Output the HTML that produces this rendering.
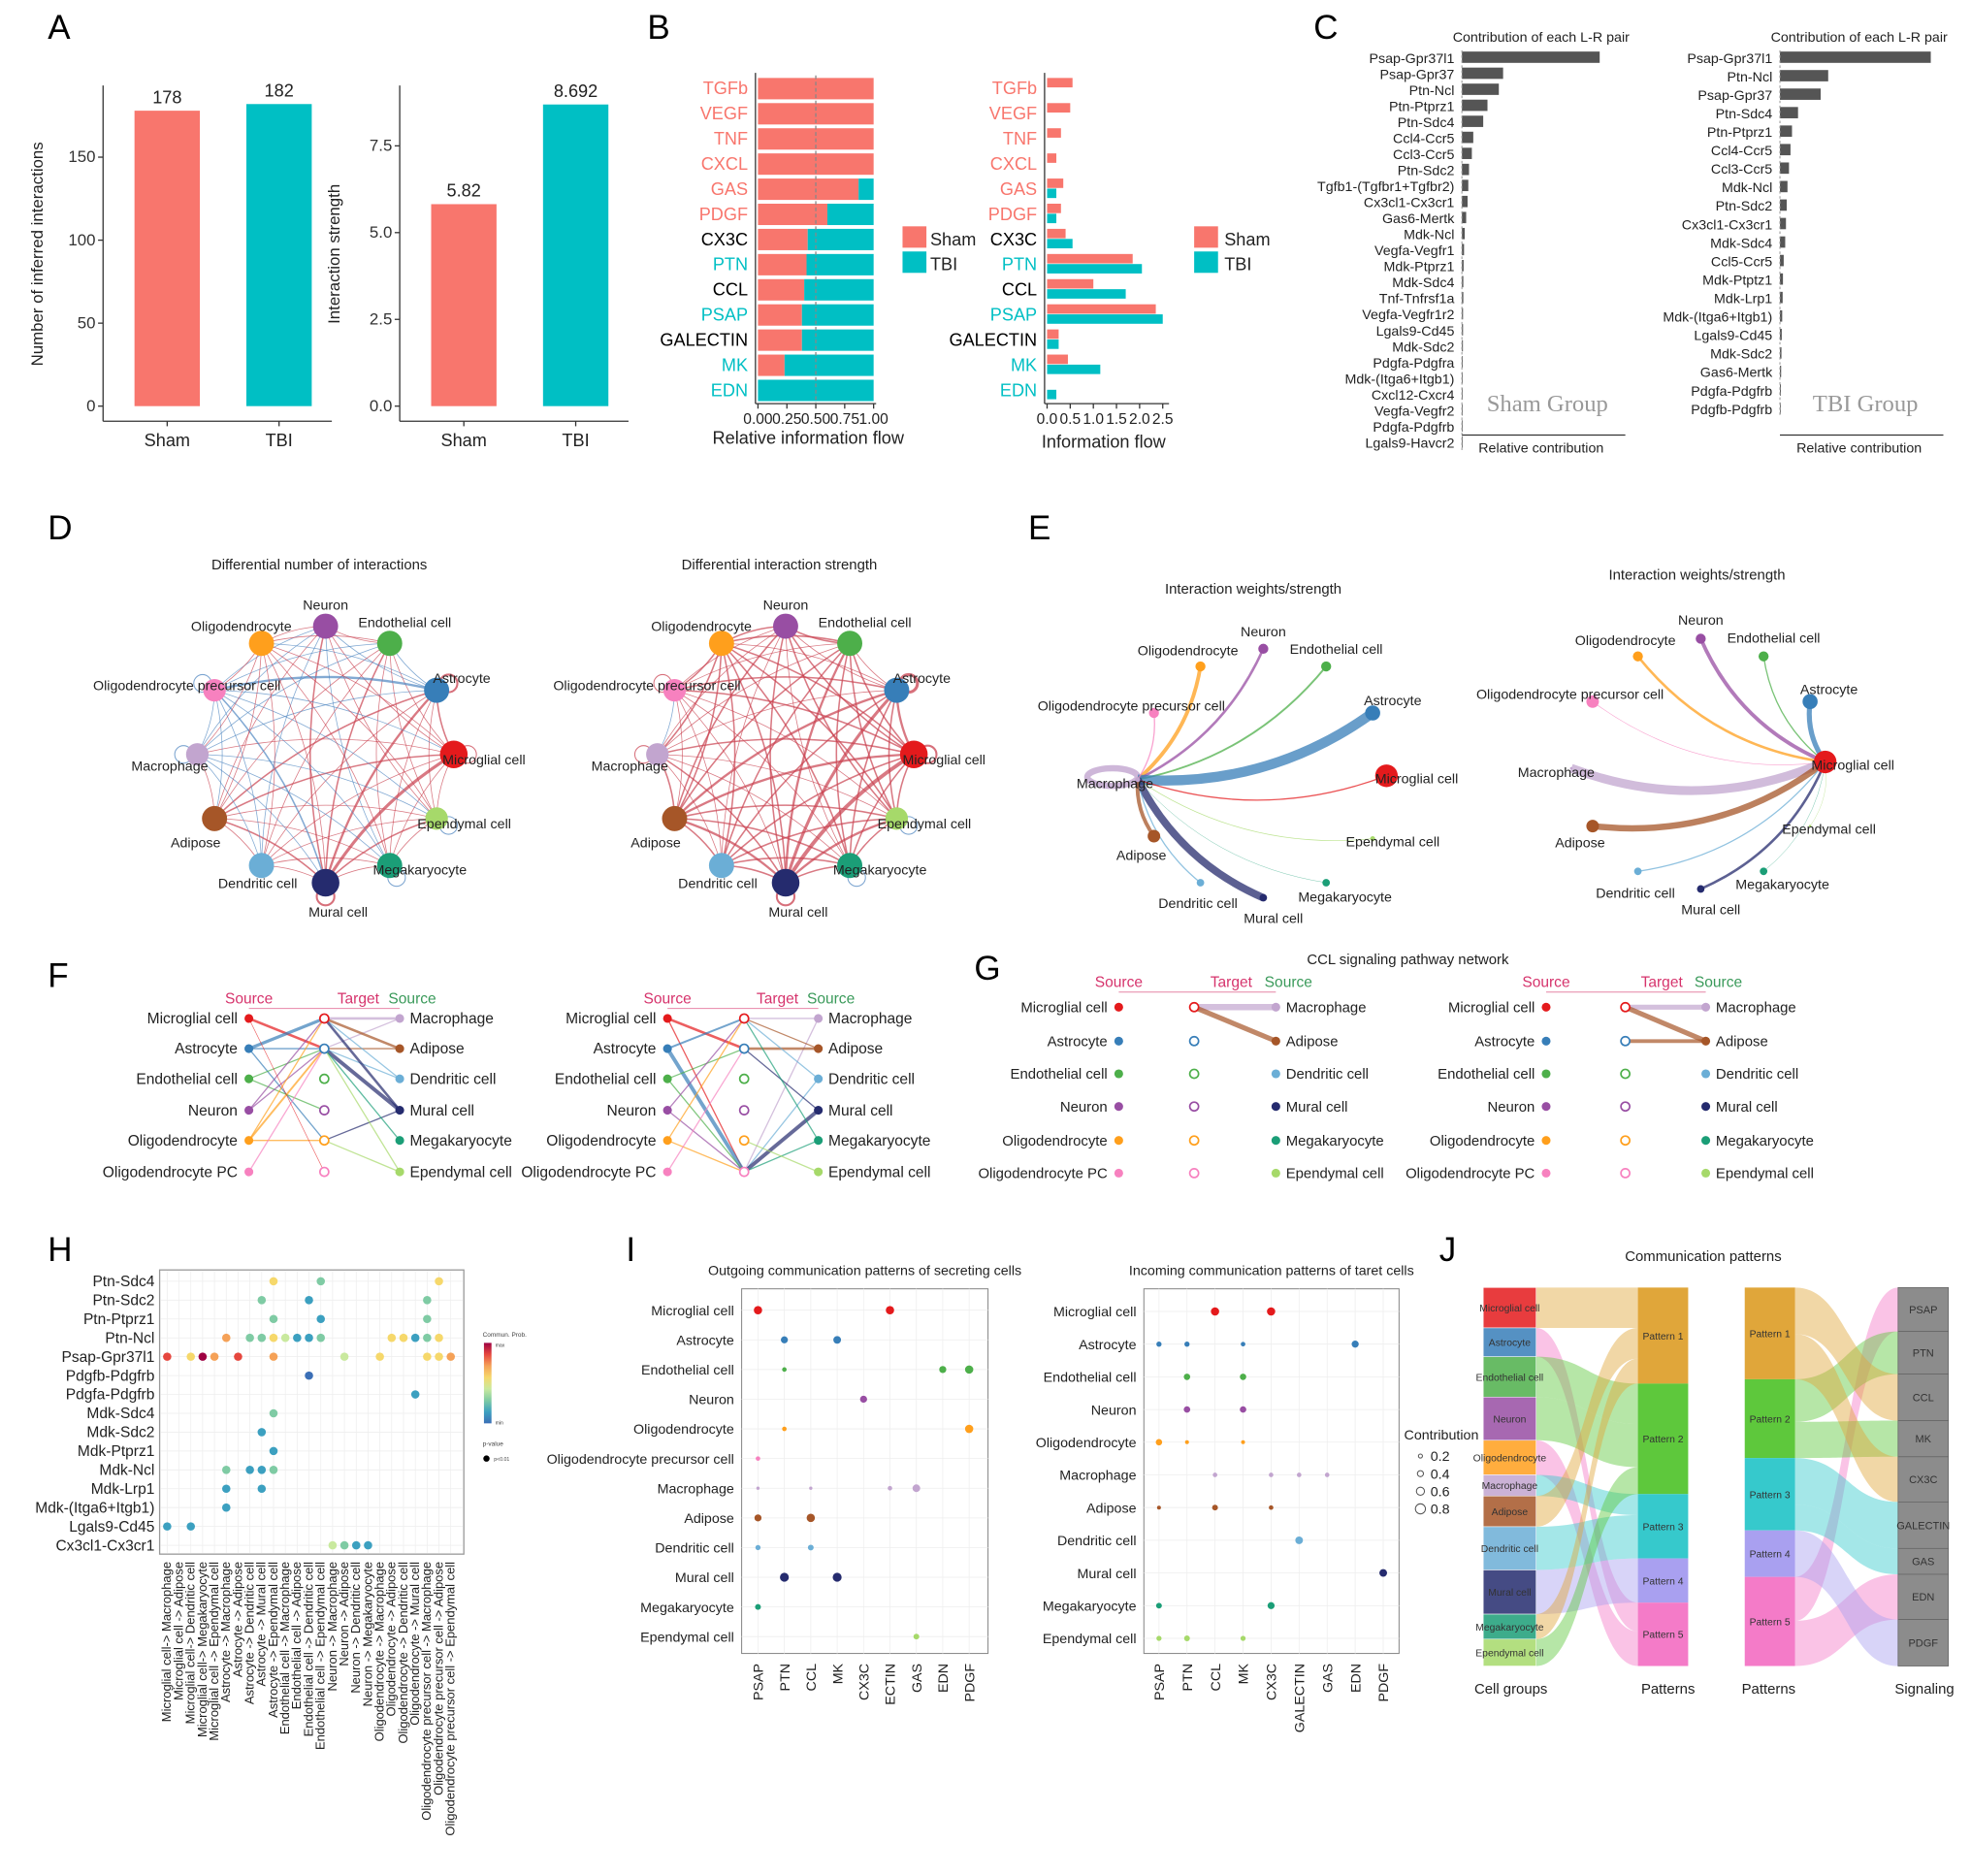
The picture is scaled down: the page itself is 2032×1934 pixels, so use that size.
<!DOCTYPE html>
<html><head><meta charset="utf-8">
<style>
html,body{margin:0;padding:0;background:#fff;}
svg{display:block;font-family:"Liberation Sans",Arial,sans-serif;}
</style></head>
<body>
<svg id="fig" xmlns="http://www.w3.org/2000/svg" width="2032" height="1934" viewBox="0 0 1568 1492" preserveAspectRatio="none"></svg>
<script>
// ---------- DATA ----------
const aCats=['Sham','TBI'];
const aCounts=[178,182];
const aStrength=[5.82,8.692];
const aCountTicks=[0,50,100,150];
const aStrTicks=[0,2.5,5,7.5];
const aStrTickLabels=['0.0','2.5','5.0','7.5'];

const bPathways=['TGFb','VEGF','TNF','CXCL','GAS','PDGF','CX3C','PTN','CCL','PSAP','GALECTIN','MK','EDN'];
const bLabelGroup=['s','s','s','s','s','s','n','t','n','t','n','t','t'];
const bShamRel=[1,1,1,1,0.87,0.6,0.43,0.42,0.40,0.38,0.38,0.23,0];
const bShamFlow=[0.55,0.5,0.3,0.2,0.35,0.3,0.4,1.85,1.0,2.35,0.25,0.45,0];
const bTbiFlow=[0,0,0,0,0.2,0.2,0.55,2.05,1.7,2.5,0.25,1.15,0.2];
const bRelTicks=[0,0.25,0.5,0.75,1];
const bRelTickLabels=['0.00','0.25','0.50','0.75','1.00'];
const bFlowTicks=[0,0.5,1,1.5,2,2.5];
const bFlowTickLabels=['0.0','0.5','1.0','1.5','2.0','2.5'];

const cShamPairs=['Psap-Gpr37l1','Psap-Gpr37','Ptn-Ncl','Ptn-Ptprz1','Ptn-Sdc4','Ccl4-Ccr5','Ccl3-Ccr5','Ptn-Sdc2','Tgfb1-(Tgfbr1+Tgfbr2)','Cx3cl1-Cx3cr1','Gas6-Mertk','Mdk-Ncl','Vegfa-Vegfr1','Mdk-Ptprz1','Mdk-Sdc4','Tnf-Tnfrsf1a','Vegfa-Vegfr1r2','Lgals9-Cd45','Mdk-Sdc2','Pdgfa-Pdgfra','Mdk-(Itga6+Itgb1)','Cxcl12-Cxcr4','Vegfa-Vegfr2','Pdgfa-Pdgfrb','Lgals9-Havcr2'];
const cShamVals=[0.97,0.29,0.26,0.18,0.15,0.08,0.07,0.05,0.045,0.04,0.03,0.02,0.015,0.012,0.01,0.01,0.008,0.008,0.007,0.006,0.005,0.005,0.004,0.004,0.003];
const cTbiPairs=['Psap-Gpr37l1','Ptn-Ncl','Psap-Gpr37','Ptn-Sdc4','Ptn-Ptprz1','Ccl4-Ccr5','Ccl3-Ccr5','Mdk-Ncl','Ptn-Sdc2','Cx3cl1-Cx3cr1','Mdk-Sdc4','Ccl5-Ccr5','Mdk-Ptptz1','Mdk-Lrp1','Mdk-(Itga6+Itgb1)','Lgals9-Cd45','Mdk-Sdc2','Gas6-Mertk','Pdgfa-Pdgfrb','Pdgfb-Pdgfrb'];
const cTbiVals=[1.0,0.32,0.27,0.12,0.08,0.07,0.06,0.05,0.045,0.04,0.035,0.025,0.02,0.018,0.015,0.012,0.01,0.008,0.006,0.005];

const C={Microglial:'#E41A1C',Astrocyte:'#377EB8',Endothelial:'#4DAF4A',Neuron:'#984EA3',Oligodendrocyte:'#FF9F1C',OPC:'#F781BF',Macrophage:'#C2A5CF',Adipose:'#A65628',Dendritic:'#6BAED6',Mural:'#252B6E',Megakaryocyte:'#1B9E77',Ependymal:'#A6D96A'};

const dNodes=['Neuron','Endothelial','Astrocyte','Microglial','Ependymal','Megakaryocyte','Mural','Dendritic','Adipose','Macrophage','OPC','Oligodendrocyte'];
const dLabels=['Neuron','Endothelial cell','Astrocyte','Microglial cell','Ependymal cell','Megakaryocyte','Mural cell','Dendritic cell','Adipose','Macrophage','Oligodendrocyte precursor cell','Oligodendrocyte'];
const dSizes=[10,10,10,11,9,10,11,10,10,9,9,10];
const dNum=[1,-1,1,1,-1,2,-1,1,-1,-1,1,
 -1,1,1,1,2,1,1,-1,-1,1,
 2,1,1,3,1,2,-1,-3,-1,
 1,1,4,1,2,1,-1,1,
 1,2,1,1,-1,-1,1,
 1,1,1,-1,-1,1,
 1,2,-1,-2,1,
 1,-1,-1,1,
 1,-1,1,
 -1,1,
 1];
const dStr=[2,1,2,2,1,2,1,2,1,1,2,
 1,2,2,2,3,2,2,1,1,2,
 3,2,2,4,2,3,1,2,1,
 2,2,5,2,3,2,2,2,
 2,3,2,2,1,1,2,
 2,2,2,1,1,2,
 2,3,2,1,2,
 2,1,1,2,
 2,1,2,
 -1,2,
 2];
const dNumLoops=[0,0,2,1,-1,-1,2,0,0,-1,-1,0];
const dStrLoops=[0,0,3,2,-1,-1,2,0,0,1,1,0];

const eLeftTargets=['Oligodendrocyte','Neuron','Endothelial','Astrocyte','OPC','Microglial','Ependymal','Megakaryocyte','Mural','Dendritic','Adipose'];
const eLeftW=[3,2,1.5,8,1,1,0.5,0.3,6,1,3];
const eRightSources=['Oligodendrocyte','Neuron','Endothelial','Astrocyte','OPC','Macrophage','Adipose','Dendritic','Mural','Megakaryocyte','Ependymal'];
const eRightW=[2,3,1,4,0.5,7,5,1,2,0.3,0.3];

const fLeftCells=['Microglial','Astrocyte','Endothelial','Neuron','Oligodendrocyte','OPC'];
const fLeftLabels=['Microglial cell','Astrocyte','Endothelial cell','Neuron','Oligodendrocyte','Oligodendrocyte PC'];
const fRightCells=['Macrophage','Adipose','Dendritic','Mural','Megakaryocyte','Ependymal'];
const fRightLabels=['Macrophage','Adipose','Dendritic cell','Mural cell','Megakaryocyte','Ependymal cell'];
const f1LeftEdges=[[0,1,2],[1,0,2.5],[1,1,1],[1,4,1],[2,1,1],[2,3,1],[3,0,1],[3,1,1],[4,0,1],[4,1,1.5],[4,4,1],[5,1,1],[0,5,0.5]];
const f1RightEdges=[[0,0,2],[0,1,1],[1,0,2],[1,1,1],[2,0,1],[2,1,1],[3,1,3],[3,0,2],[3,4,1],[4,1,1],[5,1,1],[5,4,1]];
const f2LeftEdges=[[0,1,2],[0,5,1],[1,0,1.5],[1,5,3],[2,1,1],[2,5,1],[3,0,1],[3,5,1],[4,0,1],[4,5,1],[5,1,1]];
const f2RightEdges=[[0,0,1],[0,5,1],[1,0,1],[1,1,2],[2,0,1],[2,5,1],[3,1,1],[3,5,3],[4,0,1],[4,5,1],[5,4,1]];
const g1RightEdges=[[0,0,5],[1,0,4]];
const g2RightEdges=[[0,0,4],[1,0,4],[1,1,3]];

const hPairs=['Ptn-Sdc4','Ptn-Sdc2','Ptn-Ptprz1','Ptn-Ncl','Psap-Gpr37l1','Pdgfb-Pdgfrb','Pdgfa-Pdgfrb','Mdk-Sdc4','Mdk-Sdc2','Mdk-Ptprz1','Mdk-Ncl','Mdk-Lrp1','Mdk-(Itga6+Itgb1)','Lgals9-Cd45','Cx3cl1-Cx3cr1'];
const hCols=['Microglial cell-> Macrophage','Microglial cell -> Adipose','Microglial cell-> Dendritic cell','Microglial cell-> Megakaryocyte','Microglial cell -> Ependymal cell','Astrocyte -> Macrophage','Astrocyte -> Adipose','Astrocyte -> Dendritic cell','Astrocyte -> Mural cell','Astrocyte -> Ependymal cell','Endothelial cell -> Macrophage','Endothelial cell -> Adipose','Endothelial cell -> Dendritic cell','Endothelial cell -> Ependymal cell','Neuron -> Macrophage','Neuron -> Adipose','Neuron -> Dendritic cell','Neuron -> Megakaryocyte','Oligodendrocyte -> Macrophage','Oligodendrocyte -> Adipose','Oligodendrocyte -> Dendritic cell','Oligodendrocyte -> Mural cell','Oligodendrocyte precursor cell -> Macrophage','Oligodendrocyte precursor cell -> Adipose','Oligodendrocyte precursor cell -> Ependymal cell'];
const hDots=[[0,9,0.6],[0,13,0.35],[0,23,0.55],
[1,8,0.35],[1,12,0.15],[1,22,0.35],
[2,9,0.35],[2,13,0.15],[2,22,0.35],
[3,5,0.7],[3,7,0.35],[3,8,0.35],[3,9,0.55],[3,10,0.4],[3,11,0.15],[3,12,0.2],[3,13,0.35],[3,19,0.6],[3,20,0.5],[3,21,0.2],[3,22,0.35],[3,23,0.55],
[4,0,0.8],[4,2,0.6],[4,3,1.0],[4,4,0.7],[4,6,0.8],[4,9,0.7],[4,15,0.45],[4,18,0.6],[4,22,0.6],[4,23,0.6],[4,24,0.65],
[5,12,0.05],[6,21,0.1],[7,9,0.35],[8,8,0.15],[9,9,0.2],
[10,5,0.3],[10,7,0.15],[10,8,0.15],[10,9,0.3],
[11,5,0.15],[11,8,0.15],[12,5,0.15],[13,0,0.1],[13,2,0.15],
[14,14,0.45],[14,15,0.35],[14,16,0.15],[14,17,0.15]];

const iOutRows=['Microglial cell','Astrocyte','Endothelial cell','Neuron','Oligodendrocyte','Oligodendrocyte precursor cell','Macrophage','Adipose','Dendritic cell','Mural cell','Megakaryocyte','Ependymal cell'];
const iOutKeys=['Microglial','Astrocyte','Endothelial','Neuron','Oligodendrocyte','OPC','Macrophage','Adipose','Dendritic','Mural','Megakaryocyte','Ependymal'];
const iOutCols=['PSAP','PTN','CCL','MK','CX3C','ECTIN','GAS','EDN','PDGF'];
const iOutDots=[[0,0,0.5],[0,5,0.5],[1,1,0.4],[1,3,0.45],[2,1,0.2],[2,7,0.4],[2,8,0.5],[3,4,0.4],[4,1,0.2],[4,8,0.5],[5,0,0.2],[6,0,0.1],[6,2,0.1],[6,5,0.2],[6,6,0.45],[7,0,0.4],[7,2,0.5],[8,0,0.25],[8,2,0.3],[9,1,0.55],[9,3,0.55],[10,0,0.3],[11,6,0.3]];
const iInRows=['Microglial cell','Astrocyte','Endothelial cell','Neuron','Oligodendrocyte','Macrophage','Adipose','Dendritic cell','Mural cell','Megakaryocyte','Ependymal cell'];
const iInKeys=['Microglial','Astrocyte','Endothelial','Neuron','Oligodendrocyte','Macrophage','Adipose','Dendritic','Mural','Megakaryocyte','Ependymal'];
const iInCols=['PSAP','PTN','CCL','MK','CX3C','GALECTIN','GAS','EDN','PDGF'];
const iInDots=[[0,2,0.5],[0,4,0.5],[1,0,0.25],[1,1,0.25],[1,3,0.2],[1,7,0.4],[2,1,0.35],[2,3,0.35],[3,1,0.35],[3,3,0.35],[4,0,0.35],[4,1,0.15],[4,3,0.15],[5,2,0.2],[5,4,0.2],[5,5,0.2],[5,6,0.2],[6,0,0.15],[6,2,0.3],[6,4,0.2],[7,5,0.45],[8,8,0.45],[9,0,0.3],[9,4,0.4],[10,0,0.25],[10,1,0.3],[10,3,0.25]];

const jCells=['Microglial cell','Astrocyte','Endothelial cell','Neuron','Oligodendrocyte','Macrophage','Adipose','Dendritic cell','Mural cell','Megakaryocyte','Ependymal cell'];
const jCellKeys=['Microglial','Astrocyte','Endothelial','Neuron','Oligodendrocyte','Macrophage','Adipose','Dendritic','Mural','Megakaryocyte','Ependymal'];
const jCellShare=[4.2,3.0,4.2,4.5,3.6,2.2,3.2,4.5,4.6,2.6,2.8];
const jCellPattern=[0,4,1,1,4,2,0,2,3,0,1];
const jPatterns=['Pattern 1','Pattern 2','Pattern 3','Pattern 4','Pattern 5'];
const jPatternColors=['#E0A63A','#5EC83C','#36C9CC','#A9A0F0','#F47BC8'];
const jSignals=['PSAP','PTN','CCL','MK','CX3C','GALECTIN','GAS','EDN','PDGF'];
const jSignalShare=[3.4,3.3,3.6,2.8,3.5,3.6,2.0,3.5,3.6];
const jSignalPattern=[4,1,0,1,0,2,2,4,3];

// ---------- HELPERS ----------
const NS='http://www.w3.org/2000/svg';
const svg=document.getElementById('fig');
function mk(tag,attrs,name,parent){
  const e=document.createElementNS(NS,tag);
  for(const k in attrs) e.setAttribute(k,attrs[k]);
  
  
  (parent||svg).appendChild(e);
  return e;
}
function tx(x,y,s,size,anchor,fill,name,extra){
  const a=Object.assign({x:x,y:y,'font-size':size,'text-anchor':anchor||'start',fill:fill||'#000'},extra||{});
  const e=mk('text',a,name);
  e.textContent=s;
  return e;
}
function line(x1,y1,x2,y2,stroke,w,name,extra){
  return mk('line',Object.assign({x1:x1,y1:y1,x2:x2,y2:y2,stroke:stroke,'stroke-width':w},extra||{}),name);
}
const SH='#F8766D', TB='#00BFC4';

[['A',38,31],['B',515,31],['C',1045,31],['D',38,429],['E',818,429],['F',38,785],['G',775,779],['H',38,1003],['I',498,1003],['J',1145,1003]].forEach(p=>{
  tx(p[1],p[2],p[0],27,'start','#000','panel-label-'+p[0].toLowerCase());
});

// ---------- A ----------
function chartA(ox,vals,ticks,tl,scale,title,vlabels,nm){
  const y=v=>323-v*scale;
  line(ox,68,ox,335,'#333',1,nm+'-y-axis');
  line(ox,335,ox+182,335,'#333',1,nm+'-x-axis');
  ticks.forEach((t,i)=>{
    line(ox-4,y(t),ox,y(t),'#333',1,nm+'-y-tick');
    tx(ox-6,y(t)+4,tl[i],13,'end','#333',nm+'-y-tick-label');
  });
  vals.forEach((v,i)=>{
    const cx=ox+51+i*89;
    mk('rect',{x:cx-26,y:y(v),width:52,height:323-y(v),fill:i?TB:SH},nm+'-bar-'+aCats[i].toLowerCase());
    tx(cx,y(v)-6,vlabels[i],14,'middle','#222',nm+'-value-label');
    line(cx,335,cx,339,'#333',1,nm+'-x-tick');
    tx(cx,355,aCats[i],14,'middle','#222',nm+'-x-tick-label');
  });
  tx(ox-48,202,title,13,'middle','#222',nm+'-y-axis-title',{transform:'rotate(-90 '+(ox-48)+' 202)'});
}
chartA(82,aCounts,aCountTicks,aCountTicks.map(String),1.32,'Number of inferred interactions',aCounts.map(String),'a-count');
chartA(318,aStrength,aStrTicks,aStrTickLabels,27.6,'Interaction strength',aStrength.map(String),'a-strength');

// ---------- B ----------
const bY=i=>70+i*20;
const bLabelColor=g=>g==='s'?SH:(g==='t'?TB:'#000');
line(601,58,601,321,'#333',1,'b-rel-y-axis');
line(601,321,697,321,'#333',1,'b-rel-x-axis');
const bRelX=v=>603+v*92;
bPathways.forEach((p,i)=>{
  const y=bY(i);
  const s=bShamRel[i];
  if(s>0) mk('rect',{x:bRelX(0),y:y-8,width:bRelX(s)-bRelX(0),height:17,fill:SH},'b-rel-bar-sham');
  if(s<1) mk('rect',{x:bRelX(s),y:y-8,width:bRelX(1)-bRelX(s),height:17,fill:TB},'b-rel-bar-tbi');
  tx(595,y+5,p,14,'end',bLabelColor(bLabelGroup[i]),'b-rel-pathway-label');
  tx(825,y+5,p,14,'end',bLabelColor(bLabelGroup[i]),'b-flow-pathway-label');
});
line(bRelX(0.5),60,bRelX(0.5),321,'#888',1,'b-rel-midline',{'stroke-dasharray':'3,2'});
bRelTicks.forEach((t,i)=>{
  line(bRelX(t),321,bRelX(t),325,'#333',1,'b-rel-x-tick');
  tx(bRelX(t),337,bRelTickLabels[i],12,'middle','#222','b-rel-x-tick-label');
});
tx(643,353,'Relative information flow',14,'middle','#222','b-rel-x-axis-title');
[['Sham',SH,190],['TBI',TB,210]].forEach(l=>{
  mk('rect',{x:718,y:l[2]-10,width:19,height:17,fill:l[1]},'b-rel-legend-key');
  tx(740,l[2]+5,l[0],14,'start','#222','b-rel-legend-label');
  mk('rect',{x:950,y:l[2]-10,width:19,height:17,fill:l[1]},'b-flow-legend-key');
  tx(974,l[2]+5,l[0],14,'start','#222','b-flow-legend-label');
});
const bFX=v=>833+v*36.8;
line(831,58,831,321,'#333',1,'b-flow-y-axis');
line(831,321,930,321,'#333',1,'b-flow-x-axis');
bPathways.forEach((p,i)=>{
  const y=bY(i);
  if(bShamFlow[i]>0) mk('rect',{x:bFX(0),y:y-8,width:bFX(bShamFlow[i])-bFX(0),height:7.5,fill:SH},'b-flow-bar-sham');
  if(bTbiFlow[i]>0) mk('rect',{x:bFX(0),y:y,width:bFX(bTbiFlow[i])-bFX(0),height:7.5,fill:TB},'b-flow-bar-tbi');
});
bFlowTicks.forEach((t,i)=>{
  line(bFX(t),321,bFX(t),325,'#333',1,'b-flow-x-tick');
  tx(bFX(t),337,bFlowTickLabels[i],12,'middle','#222','b-flow-x-tick-label');
});
tx(878,356,'Information flow',14,'middle','#222','b-flow-x-axis-title');

// ---------- C ----------
function chartC(x0,pairs,vals,scale,step,group,nm){
  tx(x0+63,33,'Contribution of each L-R pair',11,'middle','#222',nm+'-title');
  const y=i=>46+i*step;
  pairs.forEach((p,i)=>{
    tx(x0-6,y(i)+4,p,11,'end','#222',nm+'-pair-label');
    mk('rect',{x:x0,y:y(i)-5,width:Math.max(vals[i]*scale,0.6),height:9,fill:'#555'},nm+'-bar');
  });
  line(x0,40,x0,y(pairs.length-1)+6,'#999',0.8,nm+'-zero-line',{'stroke-dasharray':'2,2'});
  line(x0,346,x0+130,346,'#333',1,nm+'-x-axis');
  tx(x0+63,360,'Relative contribution',11,'middle','#222',nm+'-x-axis-title');
  tx(x0+68,327,group,19,'middle','#999',nm+'-group-label',{'font-family':'Liberation Serif, serif'});
}
chartC(1163,cShamPairs,cShamVals,113,12.75,'Sham Group','c-sham');
chartC(1416,cTbiPairs,cTbiVals,120,14.7,'TBI Group','c-tbi');

// ---------- D ----------
function netD(cx,cy,weights,loops,title,nm){
  tx(cx-5,453,title,11.5,'middle','#222',nm+'-title');
  const R=102;
  const pos=dNodes.map((n,i)=>{const a=-Math.PI/2+i*Math.PI*2/12;return [cx+R*Math.cos(a),cy+R*Math.sin(a),a];});
  let k=0;
  for(let i=0;i<12;i++){for(let j=i+1;j<12;j++){
    const w=weights[k++];
    const [x1,y1]=pos[i],[x2,y2]=pos[j];
    const mx=(x1+x2)/2,my=(y1+y2)/2;
    const dx=x2-x1,dy=y2-y1;
    const qx=mx-dy*0.12,qy=my+dx*0.12;
    mk('path',{d:`M${x1},${y1} Q${qx},${qy} ${x2},${y2}`,fill:'none',stroke:w>0?'#C9404F':'#4F86C0','stroke-width':Math.abs(w)*0.6,'stroke-opacity':0.7},nm+'-edge');
  }}
  pos.forEach((p,i)=>{
    const l=loops[i];
    if(l!==0){
      const lx=p[0]+Math.cos(p[2])*11,ly=p[1]+Math.sin(p[2])*11;
      mk('circle',{cx:lx,cy:ly,r:7,fill:'none',stroke:l>0?'#C9404F':'#4F86C0','stroke-width':Math.abs(l)*0.8,'stroke-opacity':0.75},nm+'-self-loop');
    }
  });
  const off=[[0,-17],[12,-17],[20,-10],[24,4],[22,4],[24,3],[10,23],[-3,14],[-15,19],[-22,9],[-22,-4],[-16,-14]];
  pos.forEach((p,i)=>{
    mk('circle',{cx:p[0],cy:p[1],r:dSizes[i],fill:C[dNodes[i]]},nm+'-node-'+dNodes[i].toLowerCase());
    tx(p[0]+off[i][0],p[1]+off[i][1]+4,dLabels[i],11,'middle','#222',nm+'-node-label');
  });
}
netD(259,600,dNum,dNumLoops,'Differential number of interactions','d-num');
netD(625,600,dStr,dStrLoops,'Differential interaction strength','d-str');

// ---------- E ----------
const eLeftPos={Oligodendrocyte:[955,530],Neuron:[1005,516],Endothelial:[1055,530],Astrocyte:[1092,567],OPC:[918,567],Microglial:[1103,617],Ependymal:[1092,667],Megakaryocyte:[1055,702],Mural:[1005,714],Dendritic:[955,702],Adipose:[918,665],Macrophage:[905,620]};
const eLabel={Oligodendrocyte:'Oligodendrocyte',Neuron:'Neuron',Endothelial:'Endothelial cell',Astrocyte:'Astrocyte',OPC:'Oligodendrocyte precursor cell',Microglial:'Microglial cell',Ependymal:'Ependymal cell',Megakaryocyte:'Megakaryocyte',Mural:'Mural cell',Dendritic:'Dendritic cell',Adipose:'Adipose',Macrophage:'Macrophage'};
const eNodeR={Oligodendrocyte:4,Neuron:4,Endothelial:4,Astrocyte:6,OPC:4,Microglial:9,Ependymal:2,Megakaryocyte:3,Mural:3,Dendritic:3,Adipose:5,Macrophage:2};
const eLabOff={Oligodendrocyte:[-10,-12],Neuron:[0,-13],Endothelial:[8,-13],Astrocyte:[16,-9],OPC:[-18,-5],Microglial:[24,3],Ependymal:[16,3],Megakaryocyte:[15,12],Mural:[8,17],Dendritic:[-2,17],Adipose:[-10,16],Macrophage:[-18,4]};
tx(997,472,'Interaction weights/strength',11.5,'middle','#222','e-left-title');
tx(1350,461,'Interaction weights/strength',11.5,'middle','#222','e-right-title');
const [emx,emy]=eLeftPos.Macrophage;
mk('ellipse',{cx:emx-20,cy:emy-2,rx:20,ry:7,fill:'none',stroke:C.Macrophage,'stroke-width':5,'stroke-opacity':0.8},'e-left-self-loop');
eLeftTargets.forEach((t,i)=>{
  const [x,y]=eLeftPos[t];
  mk('path',{d:`M${emx},${emy} Q${(emx+x)/2-(y-emy)*0.18},${(emy+y)/2+(x-emx)*0.18} ${x},${y}`,fill:'none',stroke:C[t],'stroke-width':eLeftW[i],'stroke-opacity':0.75},'e-left-edge');
});
Object.keys(eLeftPos).forEach(k=>{
  const [x,y]=eLeftPos[k];
  mk('circle',{cx:x,cy:y,r:eNodeR[k],fill:C[k]},'e-left-node');
  tx(x+eLabOff[k][0],y+eLabOff[k][1]+3,eLabel[k],11,'middle','#222','e-left-node-label');
});
const eRPos={Oligodendrocyte:[1303,522],Neuron:[1353,508],Endothelial:[1403,522],Astrocyte:[1440,558],OPC:[1267,558],Macrophage:[1250,611],Adipose:[1267,657],Dendritic:[1303,693],Mural:[1353,707],Megakaryocyte:[1403,693],Ependymal:[1440,657],Microglial:[1452,606]};
const eRR={Oligodendrocyte:4,Neuron:4,Endothelial:4,Astrocyte:6,OPC:5,Macrophage:1,Adipose:5,Dendritic:3,Mural:3,Megakaryocyte:3,Ependymal:1,Microglial:9};
const eROff={Oligodendrocyte:[-10,-12],Neuron:[0,-14],Endothelial:[8,-14],Astrocyte:[15,-9],OPC:[-18,-5],Macrophage:[-12,4],Adipose:[-10,14],Dendritic:[-2,18],Mural:[8,17],Megakaryocyte:[15,11],Ependymal:[15,3],Microglial:[22,3]};
const [rmx,rmy]=eRPos.Microglial;
eRightSources.forEach((s,i)=>{
  const [x,y]=eRPos[s];
  mk('path',{d:`M${x},${y} Q${(rmx+x)/2+(y-rmy)*0.2},${(rmy+y)/2-(x-rmx)*0.2} ${rmx},${rmy}`,fill:'none',stroke:C[s],'stroke-width':eRightW[i],'stroke-opacity':0.75},'e-right-edge');
});
Object.keys(eRPos).forEach(k=>{
  const [x,y]=eRPos[k];
  mk('circle',{cx:x,cy:y,r:eRR[k],fill:C[k]},'e-right-node');
  tx(x+eROff[k][0],y+eROff[k][1]+3,eLabel[k],11,'middle','#222','e-right-node-label');
});

// ---------- F & G ----------
function hier(x0,x1,x2,ys,leftEdges,rightEdges,fs,nm,hy){
  tx(x0,hy,'Source',12,'middle','#D6336C',nm+'-source-header');
  tx((x1+x2)/2-3,hy,'Target',12,'middle','#D6336C',nm+'-target-header');
  tx(x2+10,hy,'Source',12,'middle','#3A9A5A',nm+'-source-header-right');
  line(x0,hy+4,x2,hy+4,'#D6336C',0.8,nm+'-header-rule',{'stroke-opacity':0.6});
  leftEdges.forEach(e=>{line(x0,ys[e[0]],x1,ys[e[1]],C[fLeftCells[e[0]]],e[2],nm+'-left-edge',{'stroke-opacity':0.7});});
  rightEdges.forEach(e=>{line(x2,ys[e[0]],x1,ys[e[1]],C[fRightCells[e[0]]],e[2],nm+'-right-edge',{'stroke-opacity':0.7});});
  ys.forEach((y,i)=>{
    mk('circle',{cx:x0,cy:y,r:3.5,fill:C[fLeftCells[i]]},nm+'-source-node');
    tx(x0-9,y+4,fLeftLabels[i],fs,'end','#222',nm+'-source-label');
    mk('circle',{cx:x1,cy:y,r:3.5,fill:'#fff',stroke:C[fLeftCells[i]],'stroke-width':1.3},nm+'-target-node');
    mk('circle',{cx:x2,cy:y,r:3.5,fill:C[fRightCells[i]]},nm+'-right-source-node');
    tx(x2+8,y+4,fRightLabels[i],fs,'start','#222',nm+'-right-source-label');
  });
}
const fYs=[810,834,858,883,907,932];
hier(198,258,318,fYs,f1LeftEdges,f1RightEdges,12,'f-left',798);
hier(531,592,651,fYs,f2LeftEdges,f2RightEdges,12,'f-right',798);
tx(1120,767,'CCL signaling pathway network',11.5,'middle','#222','g-title');
const gYs=[801,828,854,880,907,933];
hier(890,950,1015,gYs,[],g1RightEdges,11.5,'g-left',785);
hier(1230,1293,1357,gYs,[],g2RightEdges,11.5,'g-right',785);

// ---------- H ----------
const hX=j=>133+j*9.4, hY=i=>1019+i*15;
mk('rect',{x:127,y:1010,width:242,height:226,fill:'#fff',stroke:'#999','stroke-width':1},'h-plot-frame');
hCols.forEach((c,j)=>{line(hX(j),1011,hX(j),1235,'#eee',0.6,'h-grid-v');});
hPairs.forEach((p,i)=>{
  line(128,hY(i),368,hY(i),'#eee',0.6,'h-grid-h');
  tx(123,hY(i)+4,p,12,'end','#222','h-pair-label');
});
const hPal=['#3B6FB6','#3CA0C0','#7FCBA4','#C9E99E','#F6D86B','#F5A157','#E6473E','#9E0142'];
function hColor(v){return hPal[Math.min(hPal.length-1,Math.round(v*(hPal.length-1)))];}
hDots.forEach(d=>{mk('circle',{cx:hX(d[1]),cy:hY(d[0]),r:3.3,fill:hColor(d[2])},'h-dot');});
hCols.forEach((c,j)=>{
  tx(hX(j)+3,1242,c,10,'end','#222','h-x-label',{transform:'rotate(-90 '+(hX(j)+3)+' 1242)'});
});
const grad=mk('linearGradient',{id:'hgrad',x1:0,y1:1,x2:0,y2:0},'h-colorbar-gradient');
hPal.forEach((c,i)=>{mk('stop',{offset:(i/(hPal.length-1)),'stop-color':c},'h-gradient-stop',grad);});
tx(384,1063,'Commun. Prob.',5,'start','#444','h-colorbar-title');
mk('rect',{x:385,y:1068,width:6,height:64,fill:'url(#hgrad)'},'h-colorbar');
tx(394,1071,'max',4,'start','#444','h-colorbar-max');
tx(394,1133,'min',4,'start','#444','h-colorbar-min');
tx(384,1150,'p-value',5,'start','#444','h-pvalue-title');
mk('circle',{cx:387,cy:1160,r:2.5,fill:'#000'},'h-pvalue-key');
tx(393,1162,'p<0.01',4,'start','#444','h-pvalue-label');

// ---------- I ----------
function dotI(x0,y0,w,h,rows,keys,cols,dots,title,nm,rowStep,colStep,rs,cs){
  tx(x0+w/2,1014,title,11,'middle','#222',nm+'-title');
  mk('rect',{x:x0,y:y0,width:w,height:h,fill:'#fff',stroke:'#888','stroke-width':0.8},nm+'-frame');
  const X=j=>cs+j*colStep, Y=i=>rs+i*rowStep;
  cols.forEach((c,j)=>{
    line(X(j),y0,X(j),y0+h,'#eee',0.6,nm+'-grid-v');
    tx(X(j)+4,y0+h+8,c,11,'end','#222',nm+'-col-label',{transform:'rotate(-90 '+(X(j)+4)+' '+(y0+h+8)+')'});
  });
  rows.forEach((r,i)=>{
    line(x0,Y(i),x0+w,Y(i),'#eee',0.6,nm+'-grid-h');
    tx(x0-6,Y(i)+4,r,11,'end','#222',nm+'-row-label');
  });
  dots.forEach(d=>{mk('circle',{cx:X(d[1]),cy:Y(d[0]),r:0.8+d[2]*5,fill:C[keys[d[0]]]},nm+'-dot');});
}
dotI(590,1025,196,290,iOutRows,iOutKeys,iOutCols,iOutDots,'Outgoing communication patterns of secreting cells','i-out',23.6,21,1042,603);
dotI(910,1025,203,290,iInRows,iInKeys,iInCols,iInDots,'Incoming communication patterns of taret cells','i-in',26,22.3,1043,922);
tx(1117,1145,'Contribution',11,'start','#222','i-legend-title');
[0.2,0.4,0.6,0.8].forEach((v,i)=>{
  mk('circle',{cx:1130,cy:1158+i*14,r:0.8+v*4,fill:'none',stroke:'#555','stroke-width':0.8},'i-legend-key');
  tx(1138,1162+i*14,String(v),11,'start','#222','i-legend-label');
});

// ---------- J ----------
tx(1355,1003,'Communication patterns',11.5,'middle','#222','j-title');
function segs(shares,y0,y1){const t=shares.reduce((a,b)=>a+b,0);let y=y0;return shares.map(s=>{const h=(y1-y0)*s/t;const r=[y,y+h];y+=h;return r;});}
function band(xa,a0,a1,xb,b0,b1,fill,nm){
  const m=(xa+xb)/2;
  mk('path',{d:`M${xa},${a0} C${m},${a0} ${m},${b0} ${xb},${b0} L${xb},${b1} C${m},${b1} ${m},${a1} ${xa},${a1} Z`,fill:fill,'fill-opacity':0.45},nm);
}
const jCellSeg=segs(jCellShare,1024,1325);
const patInShares=jPatterns.map((p,k)=>jCellShare.reduce((a,s,i)=>a+(jCellPattern[i]===k?s:0),0));
const jPatSegL=segs(patInShares,1024,1325);
const patFillL=jPatSegL.map(s=>s[0]);
jCells.forEach((c,i)=>{
  const k=jCellPattern[i];const [a0,a1]=jCellSeg[i];
  const h=a1-a0;const b0=patFillL[k];patFillL[k]+=h;
  band(1222,a0,a1,1303,b0,b0+h,jPatternColors[k],'j-left-flow');
});
jCells.forEach((c,i)=>{
  const [a0,a1]=jCellSeg[i];
  mk('rect',{x:1180,y:a0,width:42,height:a1-a0,fill:C[jCellKeys[i]],stroke:'#fff','stroke-width':0.4,'fill-opacity':0.85},'j-cell-group-bar');
  tx(1201,(a0+a1)/2+3,c,8,'middle','#333','j-cell-group-label');
});
jPatterns.forEach((p,k)=>{
  const [a0,a1]=jPatSegL[k];
  mk('rect',{x:1303,y:a0,width:40,height:a1-a0,fill:jPatternColors[k]},'j-left-pattern-bar');
  tx(1323,(a0+a1)/2+3,p,8,'middle','#333','j-left-pattern-label');
});
const patOutShares=jPatterns.map((p,k)=>jSignalShare.reduce((a,s,i)=>a+(jSignalPattern[i]===k?s:0),0));
const jPatSegR=segs(patOutShares,1024,1325);
const jSigSeg=segs(jSignalShare,1024,1325);
const patFillR=jPatSegR.map(s=>s[0]);
jSignals.forEach((s,i)=>{
  const k=jSignalPattern[i];const [b0,b1]=jSigSeg[i];const h=b1-b0;const a0=patFillR[k];patFillR[k]+=h;
  band(1428,a0,a0+h,1510,b0,b1,jPatternColors[k],'j-right-flow');
});
jPatterns.forEach((p,k)=>{
  const [a0,a1]=jPatSegR[k];
  mk('rect',{x:1388,y:a0,width:40,height:a1-a0,fill:jPatternColors[k]},'j-right-pattern-bar');
  tx(1408,(a0+a1)/2+3,p,8,'middle','#333','j-right-pattern-label');
});
jSignals.forEach((s,i)=>{
  const [a0,a1]=jSigSeg[i];
  mk('rect',{x:1510,y:a0,width:40,height:a1-a0,fill:'#8C8C8C',stroke:'#666','stroke-width':0.6},'j-signal-bar');
  tx(1530,(a0+a1)/2+3,s,8.5,'middle','#333','j-signal-label');
});
tx(1202,1347,'Cell groups',11.5,'middle','#222','j-cell-groups-axis-label');
tx(1327,1347,'Patterns',11.5,'middle','#222','j-patterns-axis-label-left');
tx(1407,1347,'Patterns',11.5,'middle','#222','j-patterns-axis-label-right');
tx(1531,1347,'Signaling',11.5,'middle','#222','j-signaling-axis-label');
</script>
</body></html>
